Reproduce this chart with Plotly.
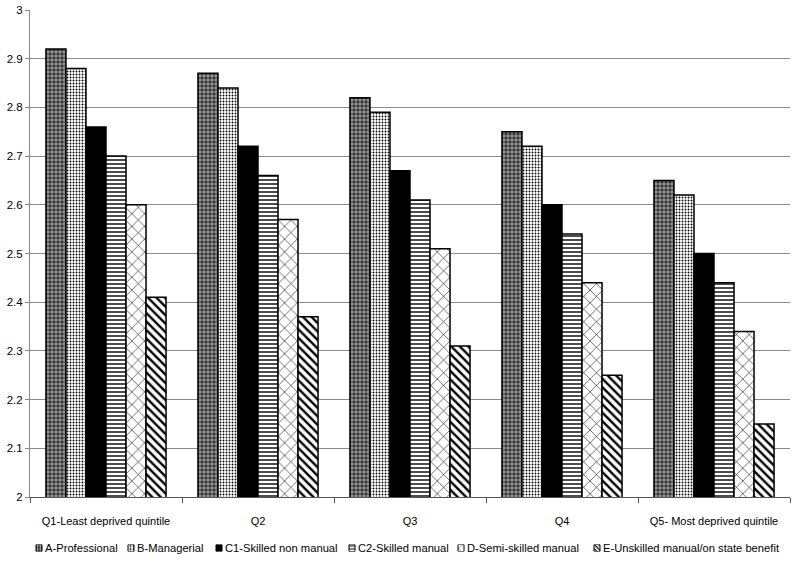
import plotly.graph_objects as go

categories = ["Q1-Least deprived quintile", "Q2", "Q3", "Q4", "Q5- Most deprived quintile"]
series_names = ["A-Professional", "B-Managerial", "C1-Skilled non manual",
                "C2-Skilled manual", "D-Semi-skilled manual", "E-Unskilled manual/on state benefit"]
a_prof = [2.92, 2.87, 2.82, 2.75, 2.65]
b_man = [2.88, 2.84, 2.79, 2.72, 2.62]
c1_snm = [2.76, 2.72, 2.67, 2.60, 2.50]
c2_sm = [2.70, 2.66, 2.61, 2.54, 2.44]
d_ssm = [2.60, 2.57, 2.51, 2.44, 2.34]
e_usm = [2.41, 2.37, 2.31, 2.25, 2.15]
y_ticks = [2, 2.1, 2.2, 2.3, 2.4, 2.5, 2.6, 2.7, 2.8, 2.9, 3]

values = [a_prof, b_man, c1_snm, c2_sm, d_ssm, e_usm]

# styles
patterns = [
    dict(shape="+", fgcolor="white", bgcolor="#333333", size=4, solidity=0.25, fillmode="replace"),
    dict(shape=".", fgcolor="black", bgcolor="white", size=3, solidity=0.3, fillmode="replace"),
    None,
    dict(shape="-", fgcolor="black", bgcolor="white", size=4, solidity=0.35, fillmode="replace"),
    dict(shape="x", fgcolor="black", bgcolor="white", size=9, solidity=0.12, fillmode="replace"),
    dict(shape="\\", fgcolor="black", bgcolor="white", size=6, solidity=0.4, fillmode="replace"),
]

# layout geometry (pixels)
W, H = 800, 564
ML, MR, MT, MB = 30, 10, 10, 8
plot_h = H - MT - MB
axis_bottom_px = 497
main_dom0 = (H - MB - axis_bottom_px) / plot_h
legend_center_px = 548
key_half = 3.5
leg_dom = [(H - MB - legend_center_px - key_half) / plot_h, (H - MB - legend_center_px + key_half) / plot_h]
legend_key_x = [39, 131, 219, 352, 461, 597]

fig = go.Figure()
for name, vals, pat in zip(series_names, values, patterns):
    marker = dict(color="black" if pat is None else "white", line=dict(color="black", width=1.5))
    if pat is not None:
        marker["pattern"] = pat
    fig.add_trace(go.Bar(name=name, x=categories, y=vals, marker=marker,
                         xaxis="x", yaxis="y", showlegend=False))

# legend keys + labels
for name, pat, kx in zip(series_names, patterns, legend_key_x):
    marker = dict(color="black" if pat is None else "white", line=dict(color="black", width=1))
    if pat is not None:
        p = dict(pat)
        p["size"] = max(3, p["size"] - 3)
        marker["pattern"] = p
    fig.add_trace(go.Bar(x=[kx], y=[1], width=[6], marker=marker, xaxis="x2", yaxis="y2",
                         showlegend=False, hoverinfo="skip"))
    fig.add_annotation(x=kx + 4, y=0.5, xref="x2", yref="y2", text=name, showarrow=False,
                       xanchor="left", yanchor="middle", font=dict(size=11.2, color="black"))

fig.update_layout(
    width=W, height=H,
    barmode="group", bargap=0.21, bargroupgap=0,
    plot_bgcolor="white", paper_bgcolor="white",
    margin=dict(l=ML, r=MR, t=MT, b=MB),
    font=dict(family="Liberation Sans, Arial, sans-serif", size=11, color="black"),
    showlegend=False,
    yaxis=dict(domain=[main_dom0, 1], range=[2, 3], tickvals=y_ticks,
               ticktext=[f"{v:g}" for v in y_ticks], tickfont=dict(size=11.5),
               showgrid=True, gridcolor="#8a8a8a", gridwidth=1,
               showline=True, linecolor="#8a8a8a", ticks="outside", ticklen=4, tickcolor="#8a8a8a",
               zeroline=False, automargin=False, anchor="x"),
    xaxis=dict(anchor="y", showline=True, linecolor="#555555", ticks="outside",
               tickson="boundaries", ticklen=5, tickcolor="#555555", showgrid=False,
               ticklabelstandoff=14, automargin=False, tickfont=dict(size=11)),
    xaxis2=dict(anchor="y2", domain=[0, 1], range=[ML, W - MR], visible=False, fixedrange=True),
    yaxis2=dict(anchor="x2", domain=leg_dom, range=[0, 1], visible=False, fixedrange=True),
)

fig.write_html("out.html", config={"displayModeBar": False},
               post_script="document.body.style.margin='0';document.body.style.overflow='hidden';")
